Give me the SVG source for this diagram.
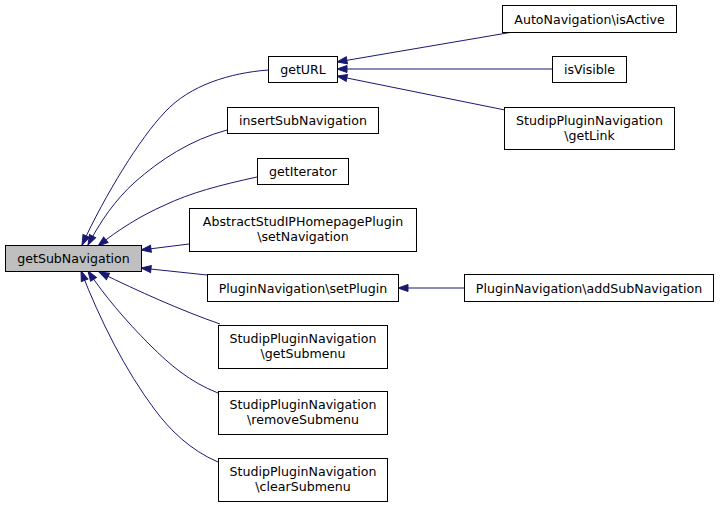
<svg xmlns="http://www.w3.org/2000/svg" width="720" height="507" viewBox="0 0 720 507">
<style>
.n rect{fill:#fff;stroke:#000;stroke-width:1}
.n.cur rect{fill:#bfbfbf}
.n text{font-family:"DejaVu Sans",sans-serif;font-size:12.6px;fill:#000;text-anchor:middle}
.e path{fill:none;stroke:#191970;stroke-width:1;marker-end:url(#ah)}
</style>
<defs>
<marker id="ah" markerUnits="userSpaceOnUse" markerWidth="12" markerHeight="9" viewBox="-1 -1 12 9" refX="10" refY="3.5" orient="auto">
<path d="M0,0 L10,3.5 L0,7 z" fill="#191970" stroke="#191970" stroke-width="1"/>
</marker>
</defs>
<rect width="720" height="507" fill="#fff"/>
<g id="edges" class="e">
<path d="M268,70 C230,73 190,85 165,112 C140,138 105,195 82,245"/>
<path d="M227,130 C190,140 160,160 135,182 C115,200 100,222 88,245"/>
<path d="M257,177 C220,185 190,193 165,205 C140,216 118,230 98,246"/>
<path d="M189,244 L141,250"/>
<path d="M207,275 L141,268"/>
<path d="M220,324 C180,310 140,292 99,272"/>
<path d="M218,393 C190,382 170,365 150,345 C125,320 104,295 88,271"/>
<path d="M218,462 C190,450 170,430 155,410 C125,370 100,320 81,271"/>
<path d="M513,32 L337,62"/>
<path d="M552,69 L337,69"/>
<path d="M505,110 L337,76"/>
<path d="M464,288 L398,288"/>
</g>
<g id="getSubNavigation" class="n cur"><rect x="5.5" y="245.5" width="136" height="26"/><text x="73.5" y="263">getSubNavigation</text></g>
<g id="getURL" class="n"><rect x="268.5" y="56.5" width="69" height="26"/><text x="303" y="74">getURL</text></g>
<g id="insertSubNavigation" class="n"><rect x="227.5" y="107.5" width="151" height="26"/><text x="303" y="125">insertSubNavigation</text></g>
<g id="getIterator" class="n"><rect x="257.5" y="158.5" width="91" height="26"/><text x="303" y="176">getIterator</text></g>
<g id="setNavigation" class="n"><rect x="189.5" y="208.5" width="227" height="43"/><text x="303" y="226">AbstractStudIPHomepagePlugin</text><text x="303" y="241">\setNavigation</text></g>
<g id="setPlugin" class="n"><rect x="207.5" y="274.5" width="191" height="27"/><text x="303" y="292.5">PluginNavigation\setPlugin</text></g>
<g id="getSubmenu" class="n"><rect x="218.5" y="325.5" width="169" height="43"/><text x="303" y="343">StudipPluginNavigation</text><text x="303" y="358">\getSubmenu</text></g>
<g id="removeSubmenu" class="n"><rect x="218.5" y="391.5" width="169" height="43"/><text x="303" y="409">StudipPluginNavigation</text><text x="303" y="424">\removeSubmenu</text></g>
<g id="clearSubmenu" class="n"><rect x="218.5" y="458.5" width="169" height="43"/><text x="303" y="476">StudipPluginNavigation</text><text x="303" y="491">\clearSubmenu</text></g>
<g id="isActive" class="n"><rect x="502.5" y="5.5" width="174" height="27"/><text x="589.5" y="23.5">AutoNavigation\isActive</text></g>
<g id="isVisible" class="n"><rect x="552.5" y="56.5" width="74" height="26"/><text x="589.5" y="74">isVisible</text></g>
<g id="getLink" class="n"><rect x="504.5" y="107.5" width="170" height="42"/><text x="589.5" y="125">StudipPluginNavigation</text><text x="589.5" y="140">\getLink</text></g>
<g id="addSubNavigation" class="n"><rect x="464.5" y="274.5" width="249" height="27"/><text x="589" y="292.5">PluginNavigation\addSubNavigation</text></g>
</svg>
